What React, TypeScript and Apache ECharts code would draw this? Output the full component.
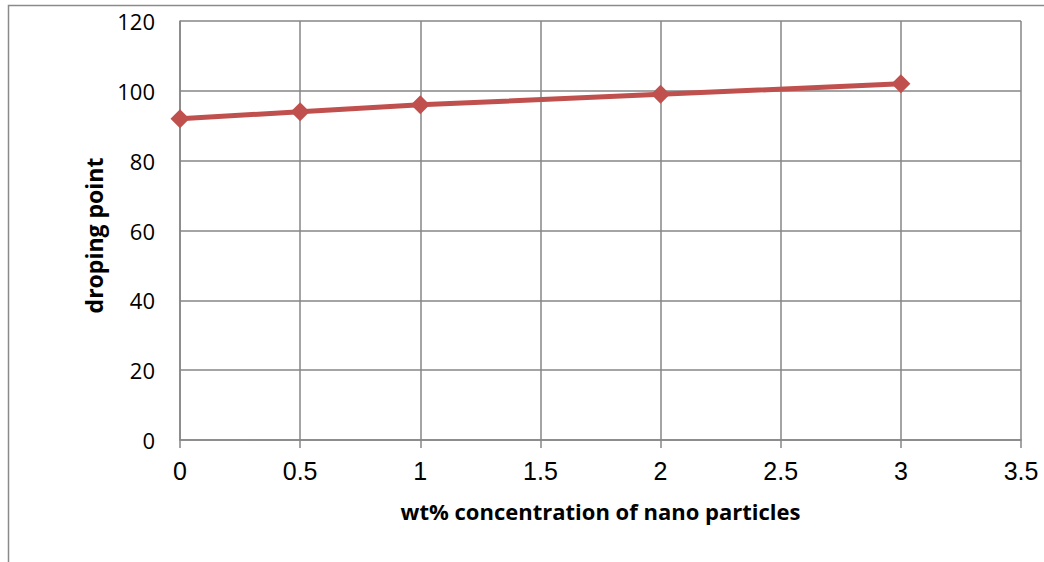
import React, { useEffect, useRef } from "react";
import * as echarts from "echarts";

const xValues = [0, 0.5, 1, 2, 3];
const dropingPoint = [92, 94, 96, 99, 102];
const xTitle = "wt% concentration of nano particles";
const yTitle = "droping point";

export default function App() {
  const ref = useRef<HTMLDivElement>(null);
  useEffect(() => {
    document.body.style.margin = "0";
    const chart = echarts.init(ref.current!, null, { renderer: "svg" });
    const gray = "#868686";
    chart.setOption({
      animation: false,
      backgroundColor: "#ffffff",
      textStyle: { fontFamily: "Liberation Sans" },
      graphic: [
        {
          type: "rect",
          shape: { x: 8.5, y: 5.5, width: 1200, height: 700 },
          style: { fill: "none", stroke: "#8a8a8a", lineWidth: 1.5 },
          silent: true,
        },
      ],
      grid: { left: 180, right: 23, top: 21, bottom: 122 },
      xAxis: {
        type: "value",
        min: 0,
        max: 3.5,
        interval: 0.5,
        name: xTitle,
        nameLocation: "middle",
        nameGap: 60,
        nameTextStyle: { fontSize: 22, fontWeight: "bold", color: "#000", fontFamily: "Open Sans" },
        axisLine: { show: true, lineStyle: { color: gray, width: 1.5 } },
        axisTick: { show: true, length: 8, lineStyle: { color: gray, width: 1.5 } },
        axisLabel: { fontSize: 25, color: "#000", margin: 18, fontFamily: "Liberation Sans" },
        splitLine: { show: true, lineStyle: { color: gray, width: 1.5 } },
      },
      yAxis: {
        type: "value",
        min: 0,
        max: 120,
        interval: 20,
        name: yTitle,
        nameLocation: "middle",
        nameGap: 75,
        nameRotate: 90,
        nameTextStyle: { fontSize: 23, fontWeight: "bold", color: "#000", fontFamily: "Open Sans", padding: [0, 10, 0, 0] },
        axisLine: { show: true, lineStyle: { color: gray, width: 1.5 } },
        axisTick: { show: false },
        axisLabel: { fontSize: 22, color: "#000", margin: 25, fontFamily: "Open Sans", padding: [4, 0, 0, 0] },
        splitLine: { show: true, lineStyle: { color: gray, width: 1.5 } },
      },
      series: [
        {
          type: "line",
          data: xValues.map((x, i) => [x, dropingPoint[i]]),
          symbol: "diamond",
          symbolSize: 19,
          lineStyle: { color: "#C0504D", width: 5 },
          itemStyle: { color: "#C0504D" },
        },
      ],
    });
    return () => chart.dispose();
  }, []);
  return <div ref={ref} style={{ width: 1044, height: 562 }} />;
}
